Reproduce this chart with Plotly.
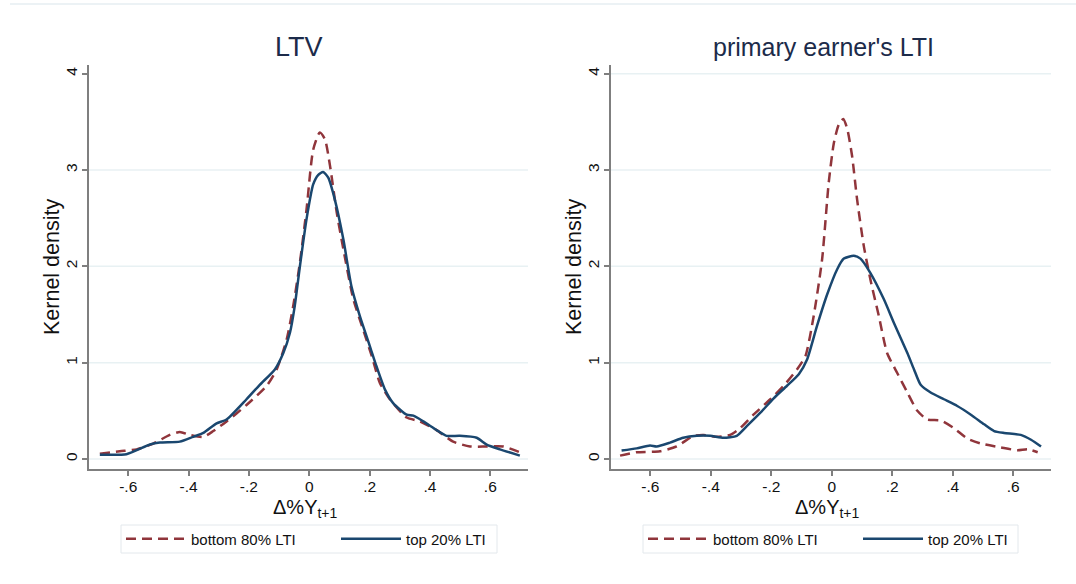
import plotly.graph_objects as go

# ---------------- data ----------------
ltv_top_x = [-0.694, -0.606, -0.528, -0.495, -0.429, -0.385, -0.351, -0.307, -0.274, -0.208, -0.164,
             -0.114, -0.086, -0.064, -0.048, -0.031, -0.009, 0.013, 0.030, 0.046, 0.063, 0.085, 0.113,
             0.140, 0.168, 0.201, 0.223, 0.251, 0.278, 0.323, 0.345, 0.378, 0.422, 0.455, 0.499, 0.555,
             0.588, 0.632, 0.698]
ltv_top_y = [0.045, 0.05, 0.15, 0.17, 0.18, 0.23, 0.27, 0.37, 0.41, 0.62, 0.77,
             0.93, 1.10, 1.31, 1.59, 2.00, 2.49, 2.85, 2.95, 2.98, 2.92, 2.69, 2.28,
             1.79, 1.48, 1.17, 0.96, 0.72, 0.58, 0.46, 0.45, 0.39, 0.30, 0.24, 0.24, 0.22,
             0.15, 0.10, 0.035]

ltv_bot_x = [-0.694, -0.628, -0.572, -0.517, -0.462, -0.429, -0.396, -0.351, -0.318, -0.274, -0.208,
             -0.141, -0.108, -0.075, -0.053, -0.031, -0.009, 0.013, 0.035, 0.052, 0.069, 0.091,
             0.113, 0.146, 0.179, 0.207, 0.234, 0.267, 0.323, 0.367, 0.422, 0.477, 0.533, 0.588,
             0.643, 0.698]
ltv_bot_y = [0.055, 0.08, 0.10, 0.16, 0.25, 0.28, 0.25, 0.23, 0.29, 0.39, 0.56,
             0.76, 0.93, 1.24, 1.59, 2.04, 2.59, 3.21, 3.39, 3.32, 3.04, 2.56,
             2.18, 1.66, 1.34, 1.07, 0.79, 0.62, 0.43, 0.39, 0.30, 0.18, 0.13, 0.13,
             0.13, 0.07]

lti_top_x = [-0.695, -0.645, -0.601, -0.579, -0.535, -0.491, -0.446, -0.402, -0.358, -0.314, -0.281,
             -0.236, -0.192, -0.148, -0.109, -0.082, -0.049, -0.015, 0.018, 0.040, 0.073, 0.095,
             0.128, 0.172, 0.206, 0.250, 0.272, 0.294, 0.327, 0.371, 0.415, 0.460, 0.504, 0.537,
             0.570, 0.625, 0.659, 0.692]
lti_top_y = [0.087, 0.11, 0.14, 0.13, 0.17, 0.22, 0.24, 0.24, 0.22, 0.24, 0.34,
             0.48, 0.63, 0.76, 0.88, 1.03, 1.38, 1.71, 1.97, 2.08, 2.11, 2.08,
             1.93, 1.66, 1.41, 1.10, 0.93, 0.77, 0.69, 0.62, 0.55, 0.46, 0.36, 0.29,
             0.27, 0.25, 0.20, 0.13]

lti_bot_x = [-0.700, -0.645, -0.568, -0.513, -0.457, -0.424, -0.380, -0.336, -0.303, -0.259, -0.203,
             -0.159, -0.115, -0.087, -0.060, -0.032, -0.010, 0.007, 0.023, 0.038, 0.051, 0.067,
             0.084, 0.106, 0.128, 0.156, 0.183, 0.217, 0.250, 0.283, 0.316, 0.360, 0.404, 0.449,
             0.493, 0.559, 0.614, 0.648, 0.681]
lti_bot_y = [0.035, 0.07, 0.08, 0.13, 0.24, 0.25, 0.23, 0.25, 0.32, 0.46, 0.62,
             0.76, 0.93, 1.07, 1.48, 2.07, 2.87, 3.28, 3.47, 3.53, 3.43, 3.15,
             2.69, 2.21, 1.86, 1.48, 1.10, 0.89, 0.69, 0.50, 0.41, 0.40, 0.32, 0.21,
             0.16, 0.12, 0.09, 0.10, 0.07]

panel_titles = ["LTV", "primary earner's LTI"]
series_names = ["bottom 80% LTI", "top 20% LTI"]
x_title = "Δ%Y<sub>t+1</sub>"
y_title = "Kernel density"
x_tickvals = [-0.6, -0.4, -0.2, 0, 0.2, 0.4, 0.6]
x_ticktext = ["-.6", "-.4", "-.2", "0", ".2", ".4", ".6"]
y_tickvals = [0, 1, 2, 3, 4]
y_ticktext = ["0", "1", "2", "3", "4"]

# ---------------- styling ----------------
RED = "#90353b"
NAVY = "#1a476f"
AXIS = "#7f7f7f"
GRID = "#e8f1f3"
TITLE_C = "#1c2b4a"
TXT = "#111111"
FONT = "Liberation Sans, Arial, sans-serif"

W, H = 1076, 584
xd = [[89 / W, 528 / W], [611 / W, 1051 / W]]
yd = [(584 - 469) / H, (584 - 65) / H]

fig = go.Figure()

panels = [(ltv_bot_x, ltv_bot_y, ltv_top_x, ltv_top_y),
          (lti_bot_x, lti_bot_y, lti_top_x, lti_top_y)]

for i, (bx, by, tx, ty) in enumerate(panels):
    xa = "x" if i == 0 else "x2"
    ya = "y" if i == 0 else "y2"
    leg = "legend" if i == 0 else "legend2"
    fig.add_trace(go.Scatter(x=bx, y=by, mode="lines", name=series_names[0],
                             line=dict(color=RED, width=2.5, dash="10px,6px", shape="spline", smoothing=0.6),
                             xaxis=xa, yaxis=ya, legend=leg))
    fig.add_trace(go.Scatter(x=tx, y=ty, mode="lines", name=series_names[1],
                             line=dict(color=NAVY, width=2.5, shape="spline", smoothing=0.6),
                             xaxis=xa, yaxis=ya, legend=leg))

axis_common_x = dict(range=[-0.73, 0.725], tickvals=x_tickvals, ticktext=x_ticktext,
                     showgrid=False, zeroline=False, showline=True, linecolor=AXIS, linewidth=2,
                     ticks="outside", ticklen=5, tickcolor=AXIS, tickwidth=1.5, automargin=False,
                     tickfont=dict(size=15.5, color=TXT, family=FONT))
axis_common_y = dict(range=[-0.104, 4.09], tickvals=y_tickvals, ticktext=y_ticktext,
                     showgrid=False, zeroline=False, showline=True, linecolor=AXIS, linewidth=2,
                     ticks="outside", ticklen=5, tickcolor=AXIS, tickwidth=1.5, tickangle=-90,
                     automargin=False,
                     tickfont=dict(size=15.5, color=TXT, family=FONT))

fig.update_layout(
    xaxis=dict(domain=xd[0], anchor="y", **axis_common_x),
    yaxis=dict(domain=yd, anchor="x", **axis_common_y),
    xaxis2=dict(domain=xd[1], anchor="y2", **axis_common_x),
    yaxis2=dict(domain=yd, anchor="x2", **axis_common_y),
)

# pull tick labels slightly closer to the axes, if supported
try:
    fig.update_xaxes(ticklabelstandoff=-3)
    fig.update_yaxes(ticklabelstandoff=-1)
except Exception:
    pass

# gridlines (left panel shows 0-3, right panel 0-4)
grid_sets = [("x domain", "y", [0, 1, 2, 3]), ("x2 domain", "y2", [0, 1, 2, 3, 4])]
for xref, yref, vals in grid_sets:
    for v in vals:
        fig.add_shape(type="line", xref=xref, yref=yref, x0=0, x1=1, y0=v, y1=v,
                      line=dict(color=GRID, width=1.5), layer="below")

# thin frame line at top of the figure
fig.add_shape(type="line", xref="paper", yref="paper", x0=10 / W, x1=1, y0=(H - 4) / H, y1=(H - 4) / H,
              line=dict(color="#e6eef2", width=1.5))

# legend frames
legend_boxes = [(121, 497), (643, 1018)]
for x0, x1 in legend_boxes:
    fig.add_shape(type="rect", xref="paper", yref="paper", x0=x0 / W, x1=x1 / W,
                  y0=(H - 553) / H, y1=(H - 525) / H,
                  line=dict(color="#e3e8ec", width=1), fillcolor="rgba(0,0,0,0)")

# panel titles
title_specs = [(299 / W, 27), (823 / W, 25)]
for t, (tx, fs) in zip(panel_titles, title_specs):
    fig.add_annotation(text=t, xref="paper", yref="paper", x=tx, y=(H - 47) / H,
                       showarrow=False, xanchor="center", yanchor="middle",
                       font=dict(size=fs, color=TITLE_C, family=FONT))

# axis titles
for xc in [305 / W, 827 / W]:
    fig.add_annotation(text=x_title, xref="paper", yref="paper", x=xc, y=(H - 508) / H,
                       showarrow=False, xanchor="center", yanchor="middle",
                       font=dict(size=20, color=TXT, family=FONT))
for xc in [52 / W, 574 / W]:
    fig.add_annotation(text=y_title, xref="paper", yref="paper", x=xc, y=(H - 267) / H,
                       showarrow=False, xanchor="center", yanchor="middle", textangle=-90,
                       font=dict(size=21.5, color=TXT, family=FONT))

legend_common = dict(orientation="h", bgcolor="rgba(0,0,0,0)", borderwidth=0,
                     font=dict(size=15, color=TXT, family=FONT),
                     xanchor="left", yanchor="middle", itemwidth=60, entrywidth=140,
                     tracegroupgap=0)
fig.update_layout(
    legend=dict(x=121 / W, y=(H - 539) / H, **legend_common),
    legend2=dict(x=643 / W, y=(H - 539) / H, **legend_common),
    showlegend=True,
    width=W, height=H,
    margin=dict(l=0, r=0, t=0, b=0, autoexpand=False),
    paper_bgcolor="white", plot_bgcolor="white",
    font=dict(family=FONT),
)

fig.write_html("out.html")
